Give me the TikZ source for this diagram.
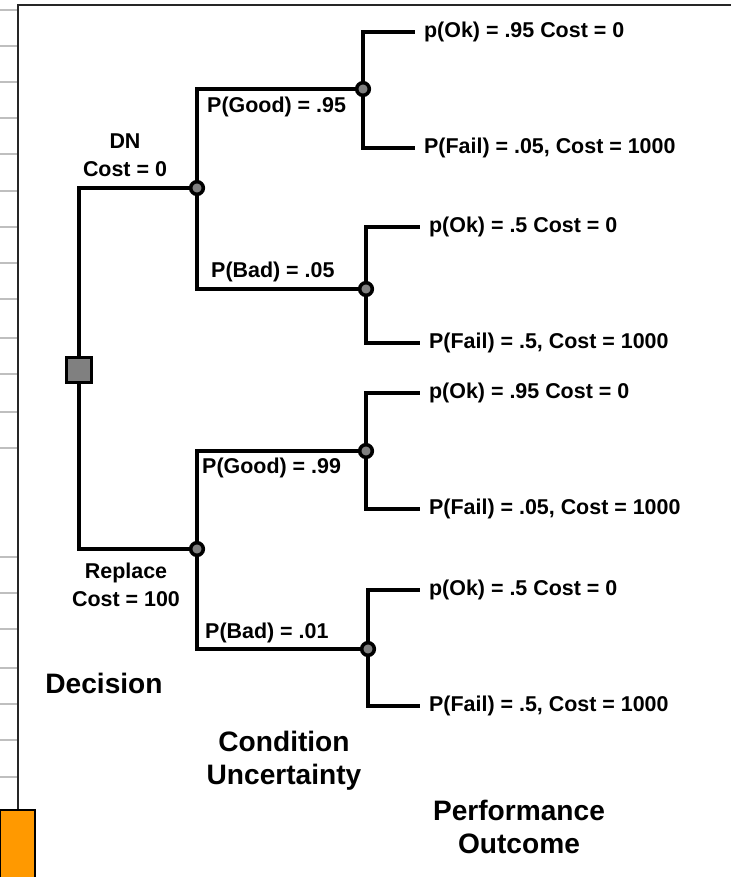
\documentclass[tikz,border=0pt]{standalone}
\usepackage{fontspec}
\setmainfont{Liberation Sans}
\definecolor{slideorange}{RGB}{255,153,0}
\begin{document}
\begin{tikzpicture}[x=0.02cm,y=-0.02cm,
  branch/.style={line width=2.5pt},
  decbox/.style={rectangle,draw,line width=2pt,fill=gray,minimum size=14pt,inner sep=0pt},
  chance/.style={circle,draw,line width=2pt,fill=gray,minimum size=7.2pt,inner sep=0pt},
  small/.style={font=\bfseries\fontsize{12.2}{16}\selectfont},
  big/.style={font=\bfseries\fontsize{16}{18.7}\selectfont,align=center},
  leaf/.style={small,anchor=west,inner xsep=5pt},
  problbl/.style={small,anchor=west},
  choice/.style={small,align=center}]

\useasboundingbox (0,0) rectangle (731,877);

% slide frame
\foreach \y in {10,46,82,118,154,191,227,263,299,338,374,412,448,557,593,629,668,704,740,777}
  \draw[line width=1.5pt,gray!50] (0,\y) -- (17,\y);
\draw[line width=1.2pt,black!85] (18,810) -- (18,5) -- (731,5);
\draw[fill=slideorange,draw=black,line width=0.6pt] (0,810) rectangle (35,878);

% decision and chance nodes
\node[decbox] (dec) at (79,370) {};
\node[chance] (dn) at (197,188) {};
\node[chance] (rep) at (197,549) {};
\node[chance] (good1) at (363,89) {};
\node[chance] (bad1) at (366,289) {};
\node[chance] (good2) at (366,451) {};
\node[chance] (bad2) at (368,649) {};

% outcomes
\node[leaf] (ok1) at (415,32) {p(Ok) = .95 Cost = 0};
\node[leaf] (fail1) at (415,148) {P(Fail) = .05, Cost = 1000};
\node[leaf] (ok2) at (420,227) {p(Ok) = .5 Cost = 0};
\node[leaf] (fail2) at (420,343) {P(Fail) = .5, Cost = 1000};
\node[leaf] (ok3) at (420,393) {p(Ok) = .95 Cost = 0};
\node[leaf] (fail3) at (420,509) {P(Fail) = .05, Cost = 1000};
\node[leaf] (ok4) at (420,590) {p(Ok) = .5 Cost = 0};
\node[leaf] (fail4) at (420,706) {P(Fail) = .5, Cost = 1000};

% branches
\draw[branch] (dec) |- (dn);
\draw[branch] (dec) |- (rep);
\draw[branch] (dn) |- (good1);
\draw[branch] (dn) |- (bad1);
\draw[branch] (rep) |- (good2);
\draw[branch] (rep) |- (bad2);
\draw[branch] (good1) |- (ok1);
\draw[branch] (good1) |- (fail1);
\draw[branch] (bad1) |- (ok2);
\draw[branch] (bad1) |- (fail2);
\draw[branch] (good2) |- (ok3);
\draw[branch] (good2) |- (fail3);
\draw[branch] (bad2) |- (ok4);
\draw[branch] (bad2) |- (fail4);

% branch labels
\node[choice] (dnlbl) at (125,155) {DN\\Cost = 0};
\node[choice] (replbl) at (126,585) {Replace\\Cost = 100};
\node[problbl] (pgood1) at (201,107) {P(Good) = .95};
\node[problbl] (pbad1) at (205,272) {P(Bad) = .05};
\node[problbl] (pgood2) at (196,468) {P(Good) = .99};
\node[problbl] (pbad2) at (199,633) {P(Bad) = .01};

% stage titles
\node[big] (decttl) at (104,683) {Decision};
\node[big] (condttl) at (284,761) {Condition\\Uncertainty};
\node[big] (perfttl) at (519,827) {Performance\\Outcome};

\end{tikzpicture}
\end{document}
